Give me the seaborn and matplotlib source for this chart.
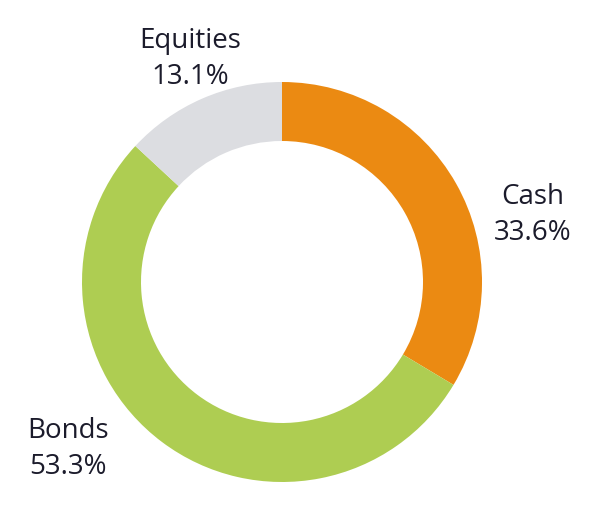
import matplotlib
matplotlib.use("Agg")
import matplotlib.pyplot as plt
import seaborn as sns

categories = ["Cash", "Bonds", "Equities"]
values = [33.6, 53.3, 13.1]
colors = ["#EB8A12", "#AECD52", "#DCDDE1"]
label_texts = ["Cash\n33.6%", "Bonds\n53.3%", "Equities\n13.1%"]

sns.set_theme(style="white")
plt.rcParams['font.family'] = ['Open Sans', 'DejaVu Sans']

W, H = 600, 522
fig = plt.figure(figsize=(6, 5.22), dpi=100)
ax = fig.add_axes([0, 0, 1, 1])

cx, cy, R = 282, H - 282, 200
ax.pie(values, colors=colors, startangle=90, counterclock=False,
       center=(cx, cy), radius=R,
       wedgeprops=dict(width=0.295 * R, edgecolor="none", linewidth=0))
ax.set_xlim(0, W)
ax.set_ylim(0, H)
ax.set_aspect("equal")
ax.axis("off")

label_pos = {"Cash": (533, H - 215), "Bonds": (68, H - 449), "Equities": (190, H - 59)}
for cat, txt in zip(categories, label_texts):
    x, y = label_pos[cat]
    ax.text(x, y, txt, ha="center", va="center", fontsize=20,
            color="#1b1b2b", linespacing=1.42)

fig.savefig("out.png", dpi=100, facecolor="white")
